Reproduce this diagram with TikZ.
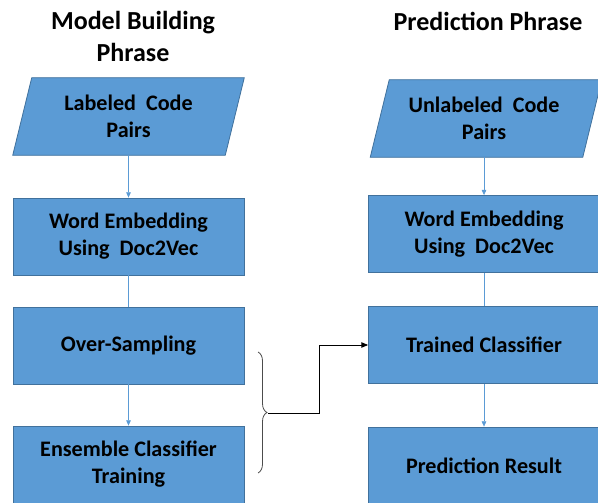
\documentclass[tikz,border=0pt]{standalone}
\usepackage{fontspec}
\setmainfont{Carlito}
\usetikzlibrary{decorations.pathreplacing,arrows.meta}
\definecolor{boxfill}{HTML}{5B9BD5}
\definecolor{boxline}{HTML}{41719C}
\definecolor{flowline}{HTML}{5B9BD5}
\tikzset{
  stepbox/.style={rectangle, draw=boxline, line width=0.6pt, fill=boxfill,
    minimum width=231*0.75pt, minimum height=77*0.75pt, inner sep=0pt,
    align=center, font=\fontsize{16.6}{20.3}\selectfont\bfseries},
  iobox/.style={rectangle, minimum width=212*0.75pt, minimum height=77*0.75pt,
    inner sep=0pt, align=center, font=\fontsize{16.6}{20.3}\selectfont\bfseries},
  ioshape/.style={draw=boxline, line width=0.6pt, fill=boxfill},
  title/.style={align=center, font=\fontsize{19.5}{24}\selectfont\bfseries},
  flow/.style={draw=flowline, line width=0.5pt},
  flowarrow/.style={flow, -{Triangle[length=4pt,width=3.5pt]}},
  link/.style={draw=black, line width=0.6pt, -{Triangle[length=5pt,width=4pt]}},
  bracestyle/.style={draw=black!70, line width=0.6pt}
}
\begin{document}
\begin{tikzpicture}[x=0.75pt,y=-0.75pt]
\useasboundingbox (0,0) rectangle (598,502);
\clip (0,0) rectangle (598,502);
% titles
\node[title] (t1) at (133,36) {Model Building\\Phrase};
\node[title] (t2) at (488,21) {Prediction Phrase};
% left column
\node[iobox] (lp) at (128.5,116.5) {};
\path[ioshape] ([xshift=-9.5*0.75pt]lp.south west) -- ([xshift=9.5*0.75pt]lp.north west)
  -- ([xshift=9.5*0.75pt]lp.north east) -- ([xshift=-9.5*0.75pt]lp.south east) -- cycle;
\node[iobox] at (lp) {Labeled\ \ Code\\Pairs};
\node[stepbox] (l1) at (128.5,236.5) {Word Embedding\\Using\ \ Doc2Vec};
\node[stepbox] (l2) at (128.5,345.5) {Over-Sampling};
\node[stepbox] (l3) at (128.5,464.5) {Ensemble Classifier\\Training};
% right column
\node[iobox] (rp) at (486,118.5) {};
\path[ioshape] ([xshift=-9.5*0.75pt]rp.south west) -- ([xshift=9.5*0.75pt]rp.north west)
  -- ([xshift=9.5*0.75pt]rp.north east) -- ([xshift=-9.5*0.75pt]rp.south east) -- cycle;
\node[iobox] at ([xshift=-2*0.75pt]rp.center) {Unlabeled\ \ Code\\Pairs};
\node[stepbox] (r1) at (484,234) {Word Embedding\\Using\ \ Doc2Vec};
\node[stepbox] (r2) at (484,345) {Trained Classifier};
\node[stepbox] (r3) at (484,465.5) {Prediction Result};
% connectors
\draw[flowarrow] (lp.south -| l1.north) -- (l1.north);
\draw[flow] (l1.south) -- (l2.north);
\draw[flowarrow] (l2.south) -- (l3.north);
\draw[flowarrow] (r1.north |- rp.south) -- (r1.north);
\draw[flow] (r1.south) -- (r2.north);
\draw[flowarrow] (r2.south) -- (r3.north);
% brace
\coordinate (btop) at (258,352);
\coordinate (bbot) at (258,473);
\draw[bracestyle, decorate, decoration={brace, amplitude=9*0.75pt, aspect=0.5}] (btop) -- (bbot);
\coordinate (btip) at (268,413);
\coordinate (bend) at (319,413);
\draw[link] (btip) -- (bend) |- (r2.west);
\end{tikzpicture}
\end{document}
